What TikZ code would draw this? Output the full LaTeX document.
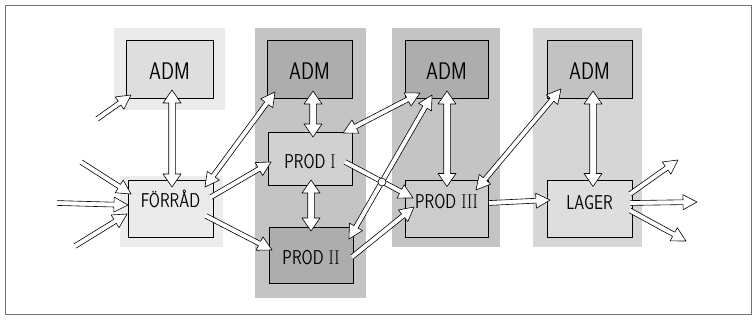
\documentclass[tikz,border=0pt]{standalone}
\usepackage{fontspec}
\usepackage{graphicx}
\usetikzlibrary{calc}
\newcommand\narrowtxt[1]{\scalebox{0.8}[1]{#1}}
\newcommand\arrdims[3]{\def\aw{#1}\def\aH{#2}\def\ah{#3}}
\arrdims{2.4pt}{7.5pt}{14pt}
% single-headed hollow arrow from #1 to #2
\newcommand\harr[2]{%
  \coordinate (hc) at ($(#2)!\ah!(#1)$);
  \path[arrline] ($(#1)!\aw!90:(#2)$) -- ($(hc)!\aw!90:(#2)$) -- ($(hc)!\aH!90:(#2)$) -- (#2)
     -- ($(hc)!\aH!-90:(#2)$) -- ($(hc)!\aw!-90:(#2)$) -- ($(#1)!\aw!-90:(#2)$);
}
% double-headed hollow arrow between #1 and #2
\newcommand\hdarr[2]{%
  \coordinate (hc) at ($(#2)!\ah!(#1)$);
  \coordinate (hd) at ($(#1)!\ah!(#2)$);
  \path[arrline] (#1) -- ($(hd)!\aH!90:(#2)$) -- ($(hd)!\aw!90:(#2)$) -- ($(hc)!\aw!90:(#2)$)
     -- ($(hc)!\aH!90:(#2)$) -- (#2) -- ($(hc)!\aH!-90:(#2)$) -- ($(hc)!\aw!-90:(#2)$)
     -- ($(hd)!\aw!-90:(#2)$) -- ($(hd)!\aH!-90:(#2)$) -- cycle;
}
\tikzset{
  box/.style={draw, line width=0.9pt, minimum width=85pt, minimum height=57pt, inner sep=0pt,
    font=\sffamily\fontsize{20}{20}\selectfont, text height=14pt, text depth=0pt},
  admbox/.style={box, minimum height=58pt, font=\sffamily\fontsize{24}{24}\selectfont,
    text height=20.7pt},
  arrline/.style={draw=black, fill=white, line width=0.6pt, line join=round},
  shadelight/.style={fill=black!8},
  shadedark/.style={fill=black!23},
  shademid/.style={fill=black!16},
}
\begin{document}
\begin{tikzpicture}[x=1pt,y=-1pt]
\useasboundingbox (0,0) rectangle (755,324);
\fill[white] (0,0) rectangle (755,324);
\draw[black!55, line width=0.8pt] (5,5) rectangle (751,314);
% stippled backgrounds
\path[shadelight] (114,28) rectangle (225,110);
\path[shadelight, fill=black!7] (120,176) rectangle (223,247);
\path[shadedark] (255,28) rectangle (366,298);
\path[shadedark] (392,28) rectangle (500,247);
\path[shademid] (533,28) rectangle (642,247);
% boxes
\node[admbox, fill=black!13, minimum width=87pt] (adm1) at (169.5,69) {\narrowtxt{ADM}};
\node[box, fill=black!8, text depth=17pt] (forrad) at (170.5,208.5) {\narrowtxt{FÖRRÅD}};
\node[admbox, fill=black!32] (adm2) at (309.5,69) {\narrowtxt{ADM}};
\node[box, fill=black!18, minimum width=84pt, minimum height=53pt, text height=19pt] (prod1) at (310,158.5) {\narrowtxt{PROD \textrm{I}}};
\node[box, fill=black!32, minimum width=84pt, minimum height=56pt, text height=18pt] (prod2) at (311,255) {\narrowtxt{PROD \textrm{II}}};
\node[admbox, fill=black!32, minimum width=83pt] (adm3) at (446.5,69) {\narrowtxt{ADM}};
\node[box, fill=black!20, minimum width=83pt, text depth=15pt] (prod3) at (446.5,208.5) {\narrowtxt{PROD \textrm{III}}};
\node[admbox, fill=black!24] (adm4) at (589.5,69) {\narrowtxt{ADM}};
\node[box, fill=black!13, text depth=13pt] (lager) at (589.5,208.5) {\narrowtxt{LAGER}};
% connector end points
\coordinate (in1) at (97,119);
\coordinate (in2) at (81,162);
\coordinate (in3) at (57,203);
\coordinate (in4) at (75,246);
\coordinate (out1) at (678,160);
\coordinate (out2) at (697,202);
\coordinate (out3) at (686,241);
\coordinate (a1a) at ($(adm1.center)+(-38.5,26)$);
\coordinate (a1s) at ($(adm1.center)+(2.5,21)$);
\coordinate (f1n) at ($(forrad.center)+(1.5,-21.5)$);
\coordinate (f1a) at ($(forrad.center)+(-39.5,-14.5)$);
\coordinate (f1b) at ($(forrad.center)+(-42.5,-3.5)$);
\coordinate (f1c) at ($(forrad.center)+(-43.5,5.5)$);
\coordinate (f1d) at ($(forrad.center)+(34.5,-21.5)$);
\coordinate (f1e) at ($(forrad.center)+(40.5,-11.5)$);
\coordinate (f1f) at ($(forrad.center)+(35.5,7.5)$);
\coordinate (a2a) at ($(adm2.center)+(-34.5,23)$);
\coordinate (a2s) at ($(adm2.center)+(3.5,22)$);
\coordinate (p1n) at ($(prod1.center)+(3,-21.5)$);
\coordinate (p1w) at ($(prod1.center)+(-39,3.5)$);
\coordinate (p1s) at ($(prod1.center)+(1,21.5)$);
\coordinate (p1ne) at ($(prod1.center)+(33,-25.5)$);
\coordinate (p1e) at ($(prod1.center)+(35,3.5)$);
\coordinate (p2n) at ($(prod2.center)+(0,-24)$);
\coordinate (p2w) at ($(prod2.center)+(-39,-5)$);
\coordinate (p2ne) at ($(prod2.center)+(38,-16)$);
\coordinate (p2e) at ($(prod2.center)+(41,2)$);
\coordinate (a3a) at ($(adm3.center)+(-26.5,24)$);
\coordinate (a3b) at ($(adm3.center)+(-14.5,26)$);
\coordinate (a3s) at ($(adm3.center)+(0.5,22)$);
\coordinate (p3n) at ($(prod3.center)+(0.5,-22)$);
\coordinate (p3a) at ($(prod3.center)+(-33.5,-10.5)$);
\coordinate (p3b) at ($(prod3.center)+(-32.5,-1.5)$);
\coordinate (p3ne) at ($(prod3.center)+(29.5,-18.5)$);
\coordinate (p3e) at ($(prod3.center)+(42.5,-5.5)$);
\coordinate (a4a) at ($(adm4.center)+(-28.5,20)$);
\coordinate (a4s) at ($(adm4.center)+(3.5,22)$);
\coordinate (lgn) at ($(lager.center)+(3.5,-22)$);
\coordinate (lgw) at ($(lager.center)+(-39.5,-8.5)$);
\coordinate (lga) at ($(lager.center)+(40.5,-14.5)$);
\coordinate (lgb) at ($(lager.center)+(40.5,-5.5)$);
\coordinate (lgc) at ($(lager.center)+(40.5,2)$);
% thin hollow arrows
\harr{in1}{a1a}
\harr{in2}{f1a}
\harr{in3}{f1b}
\harr{in4}{f1c}
\hdarr{f1d}{a2a}
\harr{f1e}{p1w}
\harr{f1f}{p2w}
\hdarr{p1ne}{a3a}
\hdarr{p2ne}{a3b}
\harr{p1e}{p3a}
\draw[line width=0.6pt, fill=white] (382,182) circle (4pt);
\harr{p2e}{p3b}
\hdarr{p3ne}{a4a}
\harr{p3e}{lgw}
\harr{lga}{out1}
\harr{lgb}{out2}
\harr{lgc}{out3}
% fat vertical double arrows
\arrdims{3.3pt}{9pt}{13pt}
\hdarr{a1s}{f1n}
\hdarr{a2s}{p1n}
\hdarr{p1s}{p2n}
\hdarr{a3s}{p3n}
\hdarr{a4s}{lgn}
\end{tikzpicture}
\end{document}
